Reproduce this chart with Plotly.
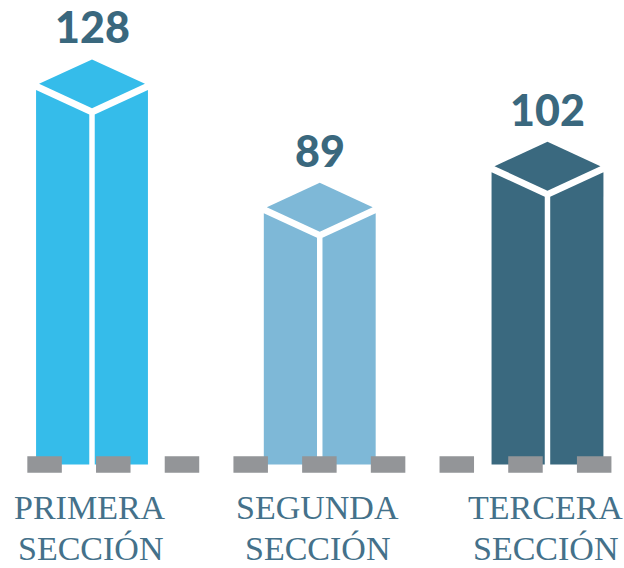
import plotly.graph_objects as go

# ---- data ----
categories = ["PRIMERA SECCIÓN", "SEGUNDA SECCIÓN", "TERCERA SECCIÓN"]
label_lines = [["PRIMERA", "SECCIÓN"], ["SEGUNDA", "SECCIÓN"], ["TERCERA", "SECCIÓN"]]
values = [128, 89, 102]
value_labels = ["128", "89", "102"]
bar_colors = ["#35BCEA", "#7EB8D7", "#3A697F"]

# ---- style constants (in axis units) ----
CAP_HW = 0.2325      # half width of top cap
CAP_HH = 7.74        # half height of top cap
BODY_HW = 0.2456     # half width of prism body
GAP_HW = 0.012       # half width of white vertical split
WHITE_OFF = 1.9      # white gap between cap and body
X_RANGE = [-0.404, 2.336]
Y_RANGE = [-32.7, 146.76]
BASE_X = [-0.284, 2.283]
LABEL_Y0 = -13.6
LABEL_DY = 12.95

fig = go.Figure()

for i, (v, col) in enumerate(zip(values, bar_colors)):
    c = i
    top = v
    # cap (rhombus)
    fig.add_trace(go.Scatter(
        x=[c, c - CAP_HW, c, c + CAP_HW, c],
        y=[top, top - CAP_HH, top - 2 * CAP_HH, top - CAP_HH, top],
        fill="toself", fillcolor=col, mode="lines", line=dict(width=0, color=col),
        hoverinfo="skip", showlegend=False))
    ytc = top - CAP_HH - WHITE_OFF          # body top at sides
    yta = top - 2 * CAP_HH - WHITE_OFF      # body top at centre
    # left half
    fig.add_trace(go.Scatter(
        x=[c - BODY_HW, c - GAP_HW, c - GAP_HW, c - BODY_HW, c - BODY_HW],
        y=[ytc, yta, 0, 0, ytc],
        fill="toself", fillcolor=col, mode="lines", line=dict(width=0, color=col),
        hoverinfo="skip", showlegend=False))
    # right half
    fig.add_trace(go.Scatter(
        x=[c + GAP_HW, c + BODY_HW, c + BODY_HW, c + GAP_HW, c + GAP_HW],
        y=[yta, ytc, 0, 0, yta],
        fill="toself", fillcolor=col, mode="lines", line=dict(width=0, color=col),
        hoverinfo="skip", showlegend=False))

# dashed baseline
fig.add_trace(go.Scatter(
    x=BASE_X, y=[0, 0], mode="lines",
    line=dict(color="#939598", width=16.5, dash="34.5px,34.2px"),
    hoverinfo="skip", showlegend=False))

# value labels
for i, (v, t) in enumerate(zip(values, value_labels)):
    fig.add_annotation(x=i, y=v, text=t, showarrow=False, xanchor="center",
                       yanchor="bottom", yshift=6, borderpad=0,
                       font=dict(family="Lato", size=43, color="#3A687E", weight=900))

# category labels
for i, lines in enumerate(label_lines):
    for j, ln in enumerate(lines):
        fig.add_annotation(x=i, y=LABEL_Y0 - j * LABEL_DY, text=ln, showarrow=False,
                           xanchor="center", yanchor="middle", xshift=-2, borderpad=0,
                           font=dict(family="Liberation Serif", size=34, color="#44718A"))

fig.update_layout(
    width=624, height=568,
    margin=dict(l=0, r=0, t=0, b=0),
    paper_bgcolor="white", plot_bgcolor="white",
    xaxis=dict(range=X_RANGE, visible=False, fixedrange=True),
    yaxis=dict(range=Y_RANGE, visible=False, fixedrange=True),
    showlegend=False,
)

fig.write_html("out.html",
               config={"displayModeBar": False},
               post_script="document.body.style.margin='0';document.body.style.overflow='hidden';")
